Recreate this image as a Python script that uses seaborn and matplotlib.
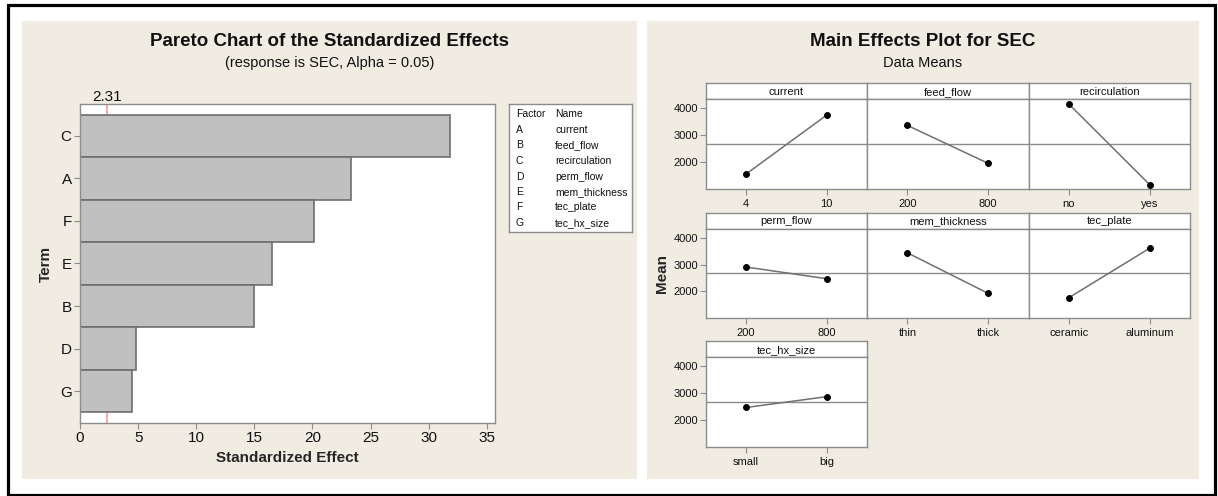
import matplotlib
matplotlib.use("Agg")
import matplotlib.pyplot as plt
from matplotlib.patches import Rectangle
import pandas as pd
import seaborn as sns

# ---- Pareto chart data -------------------------------------------------
terms = ["C", "A", "F", "E", "B", "D", "G"]
std_effects = [31.8, 23.3, 20.1, 16.5, 15.0, 4.8, 4.5]
alpha_ref = 2.31
factor_codes = ["A", "B", "C", "D", "E", "F", "G"]
factor_names = ["current", "feed_flow", "recirculation", "perm_flow",
                "mem_thickness", "tec_plate", "tec_hx_size"]

# ---- Main effects data -------------------------------------------------
me_factors = ["current", "feed_flow", "recirculation", "perm_flow",
              "mem_thickness", "tec_plate", "tec_hx_size"]
level_low = ["4", "200", "no", "200", "thin", "ceramic", "small"]
level_high = ["10", "800", "yes", "800", "thick", "aluminum", "big"]
mean_low = [1550, 3365, 4160, 2910, 3440, 1767, 2467]
mean_high = [3750, 1950, 1155, 2473, 1927, 3611, 2871]
grand_mean = 2670
mean_ticks = [2000, 3000, 4000]
pareto_ticks = [0, 5, 10, 15, 20, 25, 30, 35]

W, H = 1218, 496
BEIGE = "#F0ECE2"
FRAME = "#8C8C8C"
INK = "#111111"
FONT = ["Liberation Sans", "DejaVu Sans"]

sns.set_theme(style="white")
plt.rcParams["font.family"] = FONT
plt.rcParams["text.color"] = INK
plt.rcParams["xtick.color"] = INK
plt.rcParams["ytick.color"] = INK

fig = plt.figure(figsize=(W / 100, H / 100), dpi=100)
fig.patch.set_facecolor("white")


def box(x0, y0, x1, y1):
    return [x0 / W, 1 - y1 / H, (x1 - x0) / W, (y1 - y0) / H]


def fx(x):
    return x / W


def fy(y):
    return 1 - y / H


def frame(a):
    for s in a.spines.values():
        s.set_color(FRAME)
        s.set_linewidth(1)


# background panels and outer frame
for bx0, bx1 in [(22, 637), (647, 1199)]:
    fig.add_artist(Rectangle((fx(bx0), fy(479)), (bx1 - bx0) / W, (479 - 21) / H,
                             transform=fig.transFigure, facecolor=BEIGE,
                             edgecolor="none", zorder=0))
fig.add_artist(Rectangle((fx(7.5), fy(494.5)), (1214.5 - 7.5) / W, (494.5 - 5) / H,
                         transform=fig.transFigure, facecolor="none",
                         edgecolor="black", lw=2.3, zorder=10))

# ---- Pareto chart ------------------------------------------------------
ax = fig.add_axes(box(80, 104, 495, 423))
ax.set_facecolor("white")
pareto_df = pd.DataFrame({"Term": terms, "Effect": std_effects})
sns.barplot(data=pareto_df, x="Effect", y="Term", order=terms, orient="h",
            width=1.0, color="#C0C0C0", saturation=1, edgecolor="#6E6E6E",
            linewidth=1.2, ax=ax, zorder=2)
ax.axvline(alpha_ref, color="#F29A9A", lw=1.2, zorder=1)
ax.set_xlim(0, 35.7)
ax.set_ylim(6.75, -0.75)
ax.set_xticks(pareto_ticks)
ax.set_xlabel("Standardized Effect", fontsize=11, fontweight="bold", labelpad=4)
ax.set_ylabel("Term", fontsize=11, fontweight="bold", labelpad=5)
ax.tick_params(axis="both", which="both", length=4, width=0.8, color=FRAME,
               labelsize=11, pad=2, bottom=True, left=True)
frame(ax)
ax.text(alpha_ref, 1.0, f"{alpha_ref:.2f}", transform=ax.get_xaxis_transform(),
        ha="center", va="bottom", fontsize=11)
fig.text((22 + 637) / 2 / W, fy(41), "Pareto Chart of the Standardized Effects",
         ha="center", va="center", fontsize=13.5, fontweight="bold")
fig.text((22 + 637) / 2 / W, fy(63), "(response is SEC, Alpha = 0.05)",
         ha="center", va="center", fontsize=10.5)

# factor legend
lg = fig.add_axes(box(509, 104, 632, 232))
lg.set_facecolor("white")
lg.set_xticks([])
lg.set_yticks([])
frame(lg)
fig.text(fx(516), fy(114), "Factor", fontsize=7.5, va="center")
fig.text(fx(555), fy(114), "Name", fontsize=7.5, va="center")
for i, (code, name) in enumerate(zip(factor_codes, factor_names)):
    yy = 130 + i * 15.5
    fig.text(fx(516), fy(yy), code, fontsize=7.5, va="center")
    fig.text(fx(555), fy(yy), name, fontsize=7.5, va="center")

# ---- Main effects plot -------------------------------------------------
fig.text((647 + 1199) / 2 / W, fy(41), "Main Effects Plot for SEC",
         ha="center", va="center", fontsize=13.5, fontweight="bold")
fig.text((647 + 1199) / 2 / W, fy(63), "Data Means",
         ha="center", va="center", fontsize=10.5)

col_x = [705.7, 867.0, 1028.6, 1190.0]
row_top = [83.3, 212.7, 341.3]
strip_h = 16.0
panel_h = 89.5

for k, name in enumerate(me_factors):
    r, c = divmod(k, 3)
    x0, x1 = col_x[c], col_x[c + 1]
    st = row_top[r]
    # strip header
    sa = fig.add_axes(box(x0, st, x1, st + strip_h))
    sa.set_facecolor("white")
    sa.set_xticks([])
    sa.set_yticks([])
    frame(sa)
    sa.text(0.5, 0.45, name, ha="center", va="center", fontsize=8,
            transform=sa.transAxes)
    # panel
    pa = fig.add_axes(box(x0, st + strip_h, x1, st + strip_h + panel_h))
    pa.set_facecolor("white")
    levels = [level_low[k], level_high[k]]
    means = [mean_low[k], mean_high[k]]
    pa.axhline(grand_mean, color="#8A8A8A", lw=1, zorder=1)
    sns.lineplot(x=levels, y=means, sort=False, ax=pa, color="#707070", lw=1.1,
                 marker="o", markersize=4.2, markerfacecolor="black",
                 markeredgecolor="black", zorder=3)
    pa.set_xlim(-0.5, 1.5)
    pa.set_ylim(1000, 4340)
    pa.set_yticks(mean_ticks)
    pa.tick_params(axis="x", length=4, width=0.8, color=FRAME, labelsize=8,
                   pad=3, bottom=True)
    pa.tick_params(axis="y", length=4, width=0.8, color=FRAME, labelsize=8,
                   pad=1.5, left=(c == 0), labelleft=(c == 0))
    pa.set_xlabel("")
    pa.set_ylabel("")
    frame(pa)
    if k == 3:
        pa.set_ylabel("Mean", fontsize=11, fontweight="bold", labelpad=3)

fig.savefig("out.png", dpi=100, facecolor="white")
